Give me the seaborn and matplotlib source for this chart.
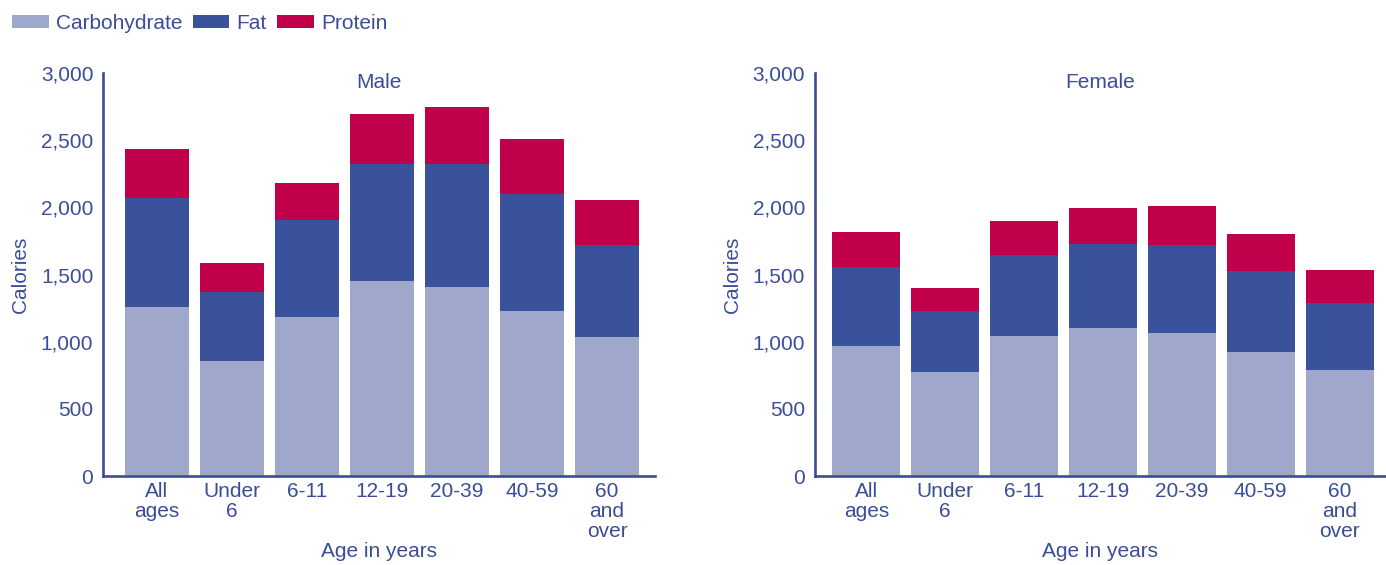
import matplotlib
import numpy as np
import pandas as pd
import seaborn as sns
from matplotlib.patches import Patch
from matplotlib.ticker import StrMethodFormatter

matplotlib.use("Agg")
import matplotlib.pyplot as plt

AGES = ["All\nages", "Under\n6", "6-11", "12-19", "20-39", "40-59", "60\nand\nover"]
NUTRIENTS = ["Carbohydrate", "Fat", "Protein"]

MALE_CARB = [1260, 858, 1187, 1455, 1410, 1231, 1037]
MALE_FAT = [807, 515, 716, 866, 911, 866, 679]
MALE_PROTEIN = [366, 209, 276, 373, 425, 410, 336]

FEMALE_CARB = [966, 771, 1040, 1100, 1063, 926, 791]
FEMALE_FAT = [591, 457, 607, 629, 656, 601, 496]
FEMALE_PROTEIN = [262, 172, 254, 269, 292, 277, 245]

COLORS = {"Carbohydrate": "#9fa8cb", "Fat": "#3a519b", "Protein": "#c0004a"}
INK = "#3b4d98"
FS = 15


def build_frame(sex, carb, fat, protein):
    rows = []
    for i, age in enumerate(AGES):
        rows.append({"sex": sex, "age": age, "nutrient": "Carbohydrate", "value": carb[i]})
        rows.append({"sex": sex, "age": age, "nutrient": "Fat", "value": fat[i]})
        rows.append({"sex": sex, "age": age, "nutrient": "Protein", "value": protein[i]})
    df = pd.DataFrame(rows)
    # running total per age group so the layers can be stacked back to front
    df["top"] = df.groupby("age", sort=False)["value"].cumsum()
    return df


def draw_panel(ax, df, title, xlim):
    for nutrient in reversed(NUTRIENTS):
        part = df[df["nutrient"] == nutrient]
        sns.barplot(
            data=part, x="age", y="top", order=AGES, color=COLORS[nutrient],
            width=0.86, saturation=1, errorbar=None, linewidth=0, ax=ax,
        )
    ax.set_ylim(0, 3000)
    ax.set_xlim(*xlim)
    ax.set_yticks(np.arange(0, 3001, 500))
    ax.yaxis.set_major_formatter(StrMethodFormatter("{x:,.0f}"))
    ax.spines[["top", "right"]].set_visible(False)
    for side in ["left", "bottom"]:
        ax.spines[side].set_color(INK)
        ax.spines[side].set_linewidth(1.9)
    ax.tick_params(axis="y", direction="in", length=6.5, width=1.9, color=INK,
                   labelcolor=INK, labelsize=FS, pad=7)
    ax.tick_params(axis="x", length=0, labelcolor=INK, labelsize=FS, pad=4)
    for lab in ax.get_xticklabels():
        lab.set_linespacing(1.08)
    ax.set_xlabel("Age in years", color=INK, fontsize=FS, labelpad=1)
    ax.set_ylabel("Calories", color=INK, fontsize=FS, labelpad=8)
    ax.text(0.5, 1.0, title, transform=ax.transAxes, ha="center", va="top",
            color=INK, fontsize=FS)


male_df = build_frame("Male", MALE_CARB, MALE_FAT, MALE_PROTEIN)
female_df = build_frame("Female", FEMALE_CARB, FEMALE_FAT, FEMALE_PROTEIN)

sns.set_style("white")
plt.rcParams["font.family"] = ["Liberation Sans", "DejaVu Sans"]

fig = plt.figure(figsize=(13.86, 5.65), dpi=100)
ax_m = fig.add_axes([0.0743, 0.1575, 0.3983, 0.7133])
ax_f = fig.add_axes([0.588, 0.1575, 0.411, 0.7133])

draw_panel(ax_m, male_df, "Male", (-0.72, 6.64))
draw_panel(ax_f, female_df, "Female", (-0.65, 6.57))

handles = [Patch(facecolor=COLORS[n], edgecolor="none") for n in NUTRIENTS]
leg = fig.legend(
    handles, NUTRIENTS, loc="upper left", bbox_to_anchor=(-0.001, 1.0), ncol=3,
    frameon=False, fontsize=FS, handlelength=1.75, handleheight=0.58,
    handletextpad=0.35, columnspacing=0.5, borderaxespad=0.25,
)
for t in leg.get_texts():
    t.set_color(INK)

fig.savefig("out.png", dpi=100)
